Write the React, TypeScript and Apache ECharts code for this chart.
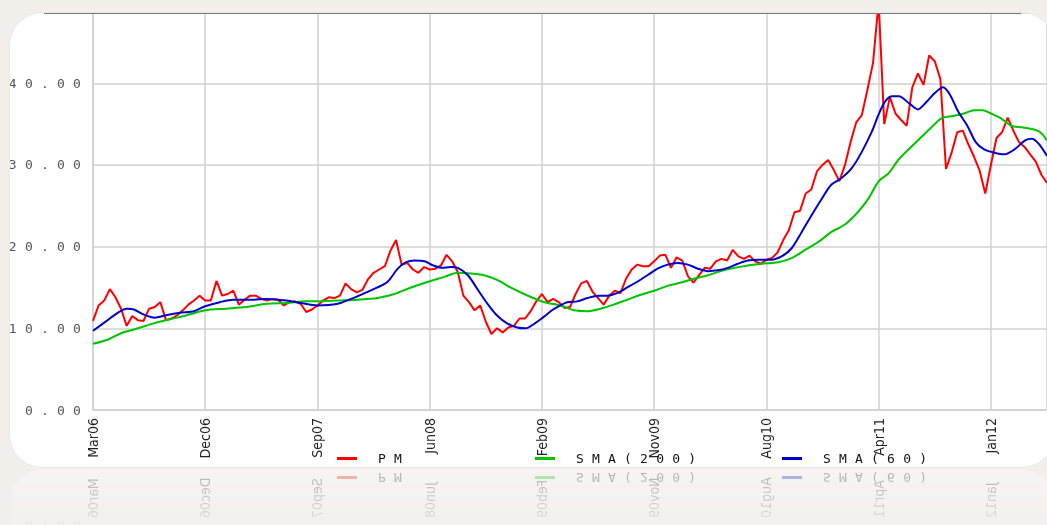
import React, { useEffect, useRef } from 'react';
import * as echarts from 'echarts';

const tickLabels = ['Mar06', 'Dec06', 'Sep07', 'Jun08', 'Feb09', 'Nov09', 'Aug10', 'Apr11', 'Jan12'];

const pm = [
  10.9, 12.8, 13.4, 14.8, 13.8, 12.4, 10.3, 11.5, 11.0, 10.9,
  12.4, 12.6, 13.2, 11.0, 11.2, 11.6, 12.2, 12.9, 13.4, 14.0,
  13.4, 13.4, 15.8, 14.0, 14.2, 14.6, 12.9, 13.5, 14.0, 14.0,
  13.6, 13.4, 13.6, 13.5, 12.8, 13.2, 13.3, 13.0, 12.0, 12.3,
  12.8, 13.4, 13.8, 13.7, 14.0, 15.5, 14.8, 14.4, 14.7, 16.0,
  16.8, 17.2, 17.6, 19.5, 20.8, 17.8, 18.0, 17.2, 16.8, 17.5,
  17.2, 17.3, 17.7, 19.0, 18.2, 16.9, 14.0, 13.2, 12.2, 12.8,
  10.8, 9.3, 10.0, 9.5, 10.1, 10.3, 11.2, 11.2, 12.1, 13.3,
  14.2, 13.2, 13.6, 13.2, 12.5, 12.6, 14.2, 15.5, 15.8, 14.5,
  13.7, 12.9, 14.0, 14.6, 14.3, 16.1, 17.2, 17.8, 17.6, 17.6,
  18.2, 18.9, 19.0, 17.4, 18.7, 18.3, 16.4, 15.6, 16.5, 17.4,
  17.3, 18.2, 18.5, 18.3, 19.6, 18.8, 18.5, 18.9, 18.2, 17.9,
  18.4, 18.6, 19.3, 20.8, 22.0, 24.2, 24.4, 26.5, 27.0, 29.2,
  30.0, 30.6, 29.4, 28.0, 30.0, 32.8, 35.2, 36.1, 39.2, 42.5,
  50.0, 35.0, 38.3, 36.3, 35.5, 34.8, 39.5, 41.2, 39.8, 43.4,
  42.7, 40.5, 29.5, 31.5, 34.0, 34.2, 32.5, 31.0, 29.3, 26.5,
  30.0, 33.3, 34.0, 35.8, 34.2, 32.8, 32.2, 31.3, 30.4, 28.8,
  27.8,
];

const sma200: [number, number][] = [
  [0, 8.1], [2.6, 8.6], [5, 9.4], [8, 10.0], [10.8, 10.6], [13.7, 11.1], [16.7, 11.6],
  [20, 12.2], [23.7, 12.4], [27.3, 12.6], [31, 13.0], [34.5, 13.1], [38, 13.3], [40, 13.3],
  [43.6, 13.4], [47.2, 13.5], [50.7, 13.7], [53.7, 14.2], [56.7, 15.0], [59.7, 15.7],
  [62.6, 16.3], [65, 16.8], [67.4, 16.7], [69.7, 16.5], [72.1, 15.9], [74.4, 15.0],
  [76.8, 14.2], [79.2, 13.5], [81, 13.1], [83.3, 12.8], [85.7, 12.2], [88.1, 12.1],
  [90.4, 12.4], [92.8, 12.9], [95.2, 13.5], [97.6, 14.1], [100, 14.6], [102.4, 15.2],
  [104.8, 15.6], [107.2, 16.1], [109.6, 16.5], [111.9, 17.0], [114.3, 17.4], [116.7, 17.7],
  [119.1, 17.9], [122.1, 18.1], [124.5, 18.6], [126.9, 19.6], [129.3, 20.6], [131.6, 21.8],
  [134, 22.7], [136.4, 24.3], [138.2, 25.9], [140, 28.0], [141.8, 29.0], [143.6, 30.7],
  [146.7, 32.8], [149.1, 34.4], [151.2, 35.7], [153.3, 36.0], [155.2, 36.3], [157, 36.7],
  [158.5, 36.7], [160, 36.3], [161.8, 35.7], [163.6, 34.8], [165.5, 34.6], [167.3, 34.4],
  [168.8, 34.0], [170, 33.0],
];

const sma60: [number, number][] = [
  [0, 9.7], [3, 11.2], [4.4, 11.9], [6, 12.4], [7.3, 12.3], [9, 11.7], [11, 11.3],
  [13, 11.6], [15.5, 11.9], [18, 12.1], [20, 12.7], [22.6, 13.2], [25, 13.5], [28.5, 13.5],
  [31, 13.6], [34.5, 13.4], [37, 13.1], [40, 12.8], [43.6, 13.0], [46, 13.6], [48.4, 14.3],
  [50.7, 15.0], [52.5, 15.7], [54.3, 17.3], [55.8, 18.1], [57.3, 18.3], [59.1, 18.2],
  [60.6, 17.7], [62.1, 17.4], [63.8, 17.5], [65, 17.4], [66.8, 16.5], [68.5, 14.8],
  [70.3, 13.0], [72.1, 11.5], [73.8, 10.6], [75.6, 10.1], [77.1, 10.0], [78.5, 10.5],
  [80.3, 11.4], [82, 12.3], [84.5, 13.2], [86.3, 13.3], [88.1, 13.7], [90, 14.0],
  [91.6, 14.0], [93.4, 14.3], [95.2, 15.0], [97, 15.7], [98.8, 16.5], [100.6, 17.3],
  [102.4, 17.8], [104.2, 18.0], [106, 17.8], [107.8, 17.3], [109.6, 17.0], [111.3, 17.1],
  [113.1, 17.4], [114.9, 17.9], [116.7, 18.3], [118.5, 18.4], [120.9, 18.4], [122.7, 18.8],
  [124.5, 19.8], [126.3, 21.8], [128.1, 23.9], [129.9, 25.9], [131.6, 27.6], [133.4, 28.4],
  [135.2, 29.6], [137, 31.6], [138.8, 34.1], [140, 36.2], [141.2, 37.8], [142.4, 38.4],
  [143.6, 38.4], [145.5, 37.5], [147, 36.8], [148.5, 37.7], [150, 38.8], [151.5, 39.5],
  [152.7, 38.6], [154.2, 36.5], [155.8, 34.8], [157.3, 32.8], [158.8, 31.9], [160.6, 31.5],
  [162.4, 31.3], [164.2, 31.9], [166.1, 33.0], [167.3, 33.2], [168.5, 32.6], [170, 31.1],
];

const seriesNames = ['PM', 'SMA(200)', 'SMA(60)'];
const seriesColors = ['#ff0000', '#00c400', '#0000cc'];

const MONO = 'DejaVu Sans Mono';
const NARROW = "'Liberation Sans Narrow', 'DejaVu Sans Condensed', 'Roboto Condensed', sans-serif";

export default function App() {
  const ref = useRef<HTMLDivElement>(null);

  useEffect(() => {
    if (!ref.current) return;
    const chart = echarts.init(ref.current, null, { renderer: 'svg' });
    const gridLine = { color: '#d0d0d0', width: 1.5 };
    const legendLefts = [327, 525, 772];
    const option = {
      animation: false,
      grid: { left: 83, right: 0, top: 0, bottom: 57, containLabel: false },
      xAxis: {
        type: 'value',
        min: 0,
        max: 170,
        interval: 20,
        axisLine: { show: true, lineStyle: gridLine },
        axisTick: { show: false },
        splitLine: { show: true, lineStyle: gridLine },
        axisLabel: {
          rotate: 90,
          margin: 8,
          color: '#222',
          fontSize: 14,
          fontFamily: NARROW,
          showMaxLabel: false,
          formatter: (v: number) => tickLabels[Math.round(v / 20)] ?? '',
        },
      },
      yAxis: {
        type: 'value',
        min: 0,
        max: 48.6,
        interval: 10,
        axisLine: { show: true, lineStyle: gridLine },
        axisTick: { show: false },
        splitLine: { show: true, lineStyle: gridLine },
        axisLabel: {
          showMaxLabel: false,
          margin: 4,
          color: '#555',
          fontSize: 13,
          fontFamily: MONO,
          formatter: (v: number) => v.toFixed(2),
        },
      },
      legend: seriesNames.map((n, i) => ({
        data: [n],
        left: legendLefts[i],
        top: 439,
        padding: 0,
        itemWidth: 20,
        itemHeight: 3,
        icon: 'rect',
        selectedMode: false,
        textStyle: { fontFamily: MONO, fontSize: 13, color: '#111', padding: [0, 0, 0, 16] },
      })),
      series: [
        {
          name: seriesNames[0],
          type: 'line',
          data: pm.map((v, i) => [i, v]),
          symbol: 'none',
          color: seriesColors[0],
          lineStyle: { width: 2, color: seriesColors[0] },
          clip: true,
        },
        {
          name: seriesNames[1],
          type: 'line',
          data: sma200,
          symbol: 'none',
          smooth: 0.3,
          color: seriesColors[1],
          lineStyle: { width: 2, color: seriesColors[1] },
          clip: true,
        },
        {
          name: seriesNames[2],
          type: 'line',
          data: sma60,
          symbol: 'none',
          smooth: 0.3,
          color: seriesColors[2],
          lineStyle: { width: 2, color: seriesColors[2] },
          clip: true,
        },
      ],
    };
    chart.setOption(option as any);
    ref.current.querySelectorAll('text').forEach((t) => {
      const s = (t.getAttribute('style') || '') + ' ' + getComputedStyle(t).fontFamily;
      if (s.indexOf('Mono') >= 0) (t as SVGTextElement).style.letterSpacing = '8.2px';
    });
    return () => chart.dispose();
  }, []);

  return (
    <div
      style={{
        position: 'fixed',
        left: 0,
        top: 0,
        width: 1047,
        height: 525,
        background: '#f1f0eb',
        overflow: 'hidden',
      }}
    >
      <div
        style={{
          position: 'absolute',
          left: 10,
          top: 13,
          width: 1044,
          height: 454,
          boxSizing: 'border-box',
          background: '#ffffff',
          borderRadius: 32,
          overflow: 'hidden',
          boxShadow: '0 0 2px rgba(0,0,0,0.10)',
          WebkitBoxReflect: 'below 2px linear-gradient(transparent 84%, rgba(0,0,0,0.3))',
        } as any}
      >
        <div ref={ref} style={{ position: 'absolute', left: 0, top: 0, width: 1037, height: 454 }} />
      </div>
      <div style={{ position: 'absolute', left: 44, top: 13, width: 977, height: 1, background: '#777' }} />
    </div>
  );
}
